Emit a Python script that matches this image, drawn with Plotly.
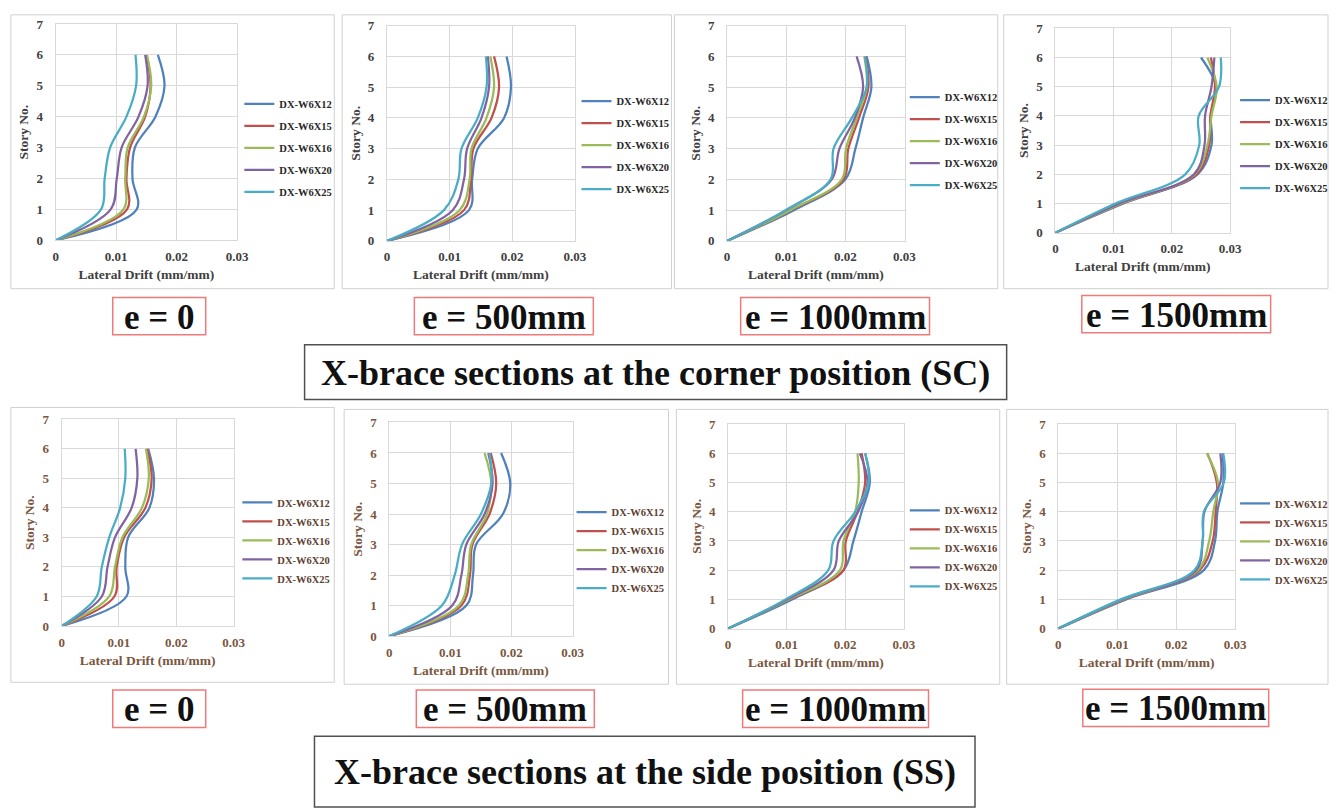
import plotly.graph_objects as go

W, H = 1341, 810

stories = [0, 1, 2, 3, 4, 5, 6]
sections = ["DX-W6X12", "DX-W6X15", "DX-W6X16", "DX-W6X20", "DX-W6X25"]
colors = ["#4F81BD", "#C0504D", "#9BBB59", "#8064A2", "#4BACC6"]
x_ticks = [0, 0.01, 0.02, 0.03]
y_ticks = [0, 1, 2, 3, 4, 5, 6, 7]
e_labels = ["e = 0", "e = 500mm", "e = 1000mm", "e = 1500mm"]
row_titles = ["X-brace sections at the corner position (SC)",
              "X-brace sections at the side position (SS)"]

# Lateral drift (mm/mm) at stories 0..6, one row per section (W6X12, 15, 16, 20, 25)
sc_e0 = [
    [0, 0.0134, 0.0127, 0.0131, 0.0165, 0.0180, 0.0169],
    [0, 0.0118, 0.0117, 0.0123, 0.0148, 0.0157, 0.0150],
    [0, 0.0112, 0.0115, 0.0119, 0.0146, 0.0158, 0.0151],
    [0, 0.0091, 0.0101, 0.0109, 0.0137, 0.0152, 0.0148],
    [0, 0.0075, 0.0081, 0.0090, 0.0117, 0.0133, 0.0132],
]
sc_e500 = [
    [0, 0.0131, 0.0136, 0.0145, 0.0187, 0.0198, 0.0191],
    [0, 0.0123, 0.0134, 0.0138, 0.0167, 0.0179, 0.0171],
    [0, 0.0116, 0.0132, 0.0135, 0.0159, 0.0171, 0.0165],
    [0, 0.0105, 0.0123, 0.0128, 0.0151, 0.0163, 0.0161],
    [0, 0.0091, 0.0114, 0.0119, 0.0145, 0.0159, 0.0158],
]
sc_e1000 = [
    [0, 0.0113, 0.0200, 0.0217, 0.0230, 0.0244, 0.0236],
    [0, 0.0108, 0.0197, 0.0205, 0.0223, 0.0239, 0.0234],
    [0, 0.0107, 0.0194, 0.0201, 0.0219, 0.0236, 0.0232],
    [0, 0.0100, 0.0177, 0.0190, 0.0216, 0.0230, 0.0219],
    [0, 0.0099, 0.0175, 0.0180, 0.0211, 0.0236, 0.0233],
]
sc_e1500 = [
    [0, 0.0117, 0.0244, 0.0268, 0.0267, 0.0276, 0.0250],
    [0, 0.0114, 0.0242, 0.0264, 0.0266, 0.0274, 0.0267],
    [0, 0.0113, 0.0239, 0.0261, 0.0268, 0.0277, 0.0261],
    [0, 0.0110, 0.0238, 0.0256, 0.0257, 0.0268, 0.0273],
    [0, 0.0103, 0.0223, 0.0247, 0.0246, 0.0281, 0.0284],
]
ss_e0 = [
    [0, 0.0113, 0.0111, 0.0116, 0.0153, 0.0161, 0.0151],
    [0, 0.0092, 0.0096, 0.0109, 0.0146, 0.0157, 0.0149],
    [0, 0.0083, 0.0093, 0.0106, 0.0140, 0.0152, 0.0147],
    [0, 0.0070, 0.0080, 0.0093, 0.0122, 0.0132, 0.0129],
    [0, 0.0061, 0.0070, 0.0083, 0.0102, 0.0111, 0.0110],
]
ss_e500 = [
    [0, 0.0126, 0.0137, 0.0142, 0.0186, 0.0198, 0.0183],
    [0, 0.0118, 0.0132, 0.0136, 0.0164, 0.0175, 0.0166],
    [0, 0.0114, 0.0129, 0.0134, 0.0160, 0.0167, 0.0156],
    [0, 0.0103, 0.0118, 0.0126, 0.0156, 0.0169, 0.0162],
    [0, 0.0086, 0.0107, 0.0119, 0.0150, 0.0167, 0.0164],
]
ss_e1000 = [
    [0, 0.0110, 0.0197, 0.0214, 0.0228, 0.0242, 0.0234],
    [0, 0.0105, 0.0197, 0.0201, 0.0221, 0.0234, 0.0228],
    [0, 0.0104, 0.0191, 0.0197, 0.0217, 0.0223, 0.0221],
    [0, 0.0101, 0.0180, 0.0189, 0.0222, 0.0238, 0.0225],
    [0, 0.0098, 0.0171, 0.0180, 0.0217, 0.0240, 0.0234],
]
ss_e1500 = [
    [0, 0.0115, 0.0247, 0.0266, 0.0270, 0.0280, 0.0279],
    [0, 0.0112, 0.0240, 0.0262, 0.0267, 0.0269, 0.0253],
    [0, 0.0110, 0.0237, 0.0256, 0.0263, 0.0271, 0.0252],
    [0, 0.0108, 0.0234, 0.0245, 0.0248, 0.0275, 0.0275],
    [0, 0.0106, 0.0231, 0.0245, 0.0247, 0.0281, 0.0280],
]
panels = [sc_e0, sc_e500, sc_e1000, sc_e1500, ss_e0, ss_e500, ss_e1000, ss_e1500]

# ---------------- layout geometry (pixels) ----------------
plot_px = [  # x0, x1, ytop, ybottom of each plot area
    (53.3, 236.7, 17.3, 237.7), (388.3, 578.3, 19.0, 238.3),
    (732.3, 911.7, 19.0, 238.3), (1064.3, 1241.0, 21.7, 230.0),
    (59.3, 233.3, 420.0, 630.7), (390.7, 576.0, 423.3, 641.0),
    (733.3, 911.0, 425.0, 633.3), (1067.3, 1246.0, 425.0, 633.3),
]
frame_px = [
    (8, 8, 335, 287), (343, 8, 676, 287), (679, 8, 1006, 287), (1012, 8, 1340, 287),
    (8, 408, 335, 688), (345, 410, 673, 690), (681, 410, 1008, 690), (1015, 410, 1340, 690),
]
legend_px = [  # swatch-left x, first-item centre y
    (245, 95), (586, 92), (918, 88), (1252, 91),
    (243, 501), (581, 511), (918, 509), (1252, 502),
]
label_boxes = [
    (111, 296, 205, 334), (416, 296, 597, 334), (746, 296, 937, 334), (1091, 294, 1282, 332),
    (111, 696, 205, 734), (418, 696, 598, 734), (748, 696, 936, 734), (1092, 695, 1280, 733),
]
title_boxes = [(305, 344, 1015, 400), (315, 743, 983, 815)]

FONT = "Liberation Serif"
TOP_COL = "#404040"
BOT_COL = "#7a5640"
TOP_LEG = "#262626"
BOT_LEG = "#5e4030"
GRID = "#d9d9d9"


def fx(px):
    return px / W


def fy(py):
    return 1 - py / H


fig = go.Figure()
layout = dict(
    width=W, height=H, margin=dict(l=0, r=0, t=0, b=0),
    paper_bgcolor="white", plot_bgcolor="white", showlegend=True,
)
shapes = []
annotations = []

for i, data in enumerate(panels):
    k = i + 1
    sfx = "" if k == 1 else str(k)
    txtcol = TOP_COL if i < 4 else BOT_COL
    legcol = TOP_LEG if i < 4 else BOT_LEG
    lgd_name = "legend" + sfx
    for j, (name, col) in enumerate(zip(sections, colors)):
        fig.add_trace(go.Scatter(
            x=data[j], y=stories, mode="lines", name=name,
            line=dict(color=col, width=2.25, shape="spline", smoothing=1.0),
            xaxis="x" + sfx, yaxis="y" + sfx, legend=lgd_name,
            legendgroup=f"p{k}_{j}", hoverinfo="skip",
        ))
    x0, x1, yt, yb = plot_px[i]
    tickfont = dict(family=FONT, size=13, color=txtcol, weight="bold")
    titlefont = dict(family=FONT, size=13.5, color=txtcol, weight="bold")
    layout["xaxis" + sfx] = dict(
        domain=[fx(x0), fx(x1)], anchor="y" + sfx, range=[0, 0.03],
        tickvals=x_ticks, ticktext=[f"{v:g}" for v in x_ticks],
        showgrid=True, gridcolor=GRID, gridwidth=1, zeroline=False,
        showline=True, mirror=True, linecolor=GRID, linewidth=1,
        ticks="", ticklabelstandoff=4, tickfont=tickfont,
        title=dict(text="Lateral Drift (mm/mm)", standoff=6, font=titlefont),
        fixedrange=True,
    )
    layout["yaxis" + sfx] = dict(
        domain=[fy(yb), fy(yt)], anchor="x" + sfx, range=[0, 7],
        tickvals=y_ticks, showgrid=True, gridcolor=GRID, gridwidth=1, zeroline=False,
        showline=True, mirror=True, linecolor=GRID, linewidth=1,
        ticks="", ticklabelstandoff=9, tickfont=tickfont,
        title=dict(text="Story No.", standoff=4, font=titlefont),
        fixedrange=True,
    )
    lx, ly = legend_px[i]
    gap = 3 if i < 4 else 0
    layout[lgd_name] = dict(
        x=fx(lx - 6), y=fy(ly - 11), xanchor="left", yanchor="top",
        xref="paper", yref="paper", bgcolor="rgba(0,0,0,0)", borderwidth=0,
        itemwidth=30, tracegroupgap=gap, traceorder="grouped",
        font=dict(family=FONT, size=10.5, color=legcol, weight="bold"),
    )
    # outer chart frame
    fx0, fy0, fx1, fy1 = frame_px[i]
    shapes.append(dict(type="rect", xref="paper", yref="paper", layer="below",
                       x0=fx(fx0), x1=fx(fx1), y0=fy(fy1), y1=fy(fy0),
                       line=dict(color="#d0d0d0", width=1)))
    # e = ... label box
    bx0, by0, bx1, by1 = label_boxes[i]
    shapes.append(dict(type="rect", xref="paper", yref="paper",
                       x0=fx(bx0), x1=fx(bx1), y0=fy(by1), y1=fy(by0),
                       line=dict(color="#f07a7a", width=1.5)))
    annotations.append(dict(
        text=e_labels[i % 4], xref="paper", yref="paper",
        x=fx((bx0 + bx1) / 2), y=fy((by0 + by1) / 2 + 1),
        xanchor="center", yanchor="middle", showarrow=False,
        font=dict(family=FONT, size=35, color="#111111", weight="bold"),
    ))

for r, (tx0, ty0, tx1, ty1) in enumerate(title_boxes):
    shapes.append(dict(type="rect", xref="paper", yref="paper",
                       x0=fx(tx0), x1=fx(tx1), y0=fy(ty1), y1=fy(ty0),
                       line=dict(color="#505050", width=1.5)))
    cy = (ty0 + ty1) / 2 if r == 0 else 778
    annotations.append(dict(
        text=row_titles[r], xref="paper", yref="paper",
        x=fx((tx0 + tx1) / 2), y=fy(cy + 1), xanchor="center", yanchor="middle",
        showarrow=False,
        font=dict(family=FONT, size=36, color="#111111", weight="bold"),
    ))

layout["shapes"] = shapes
layout["annotations"] = annotations
fig.update_layout(**layout)
fig.write_html("out.html")
